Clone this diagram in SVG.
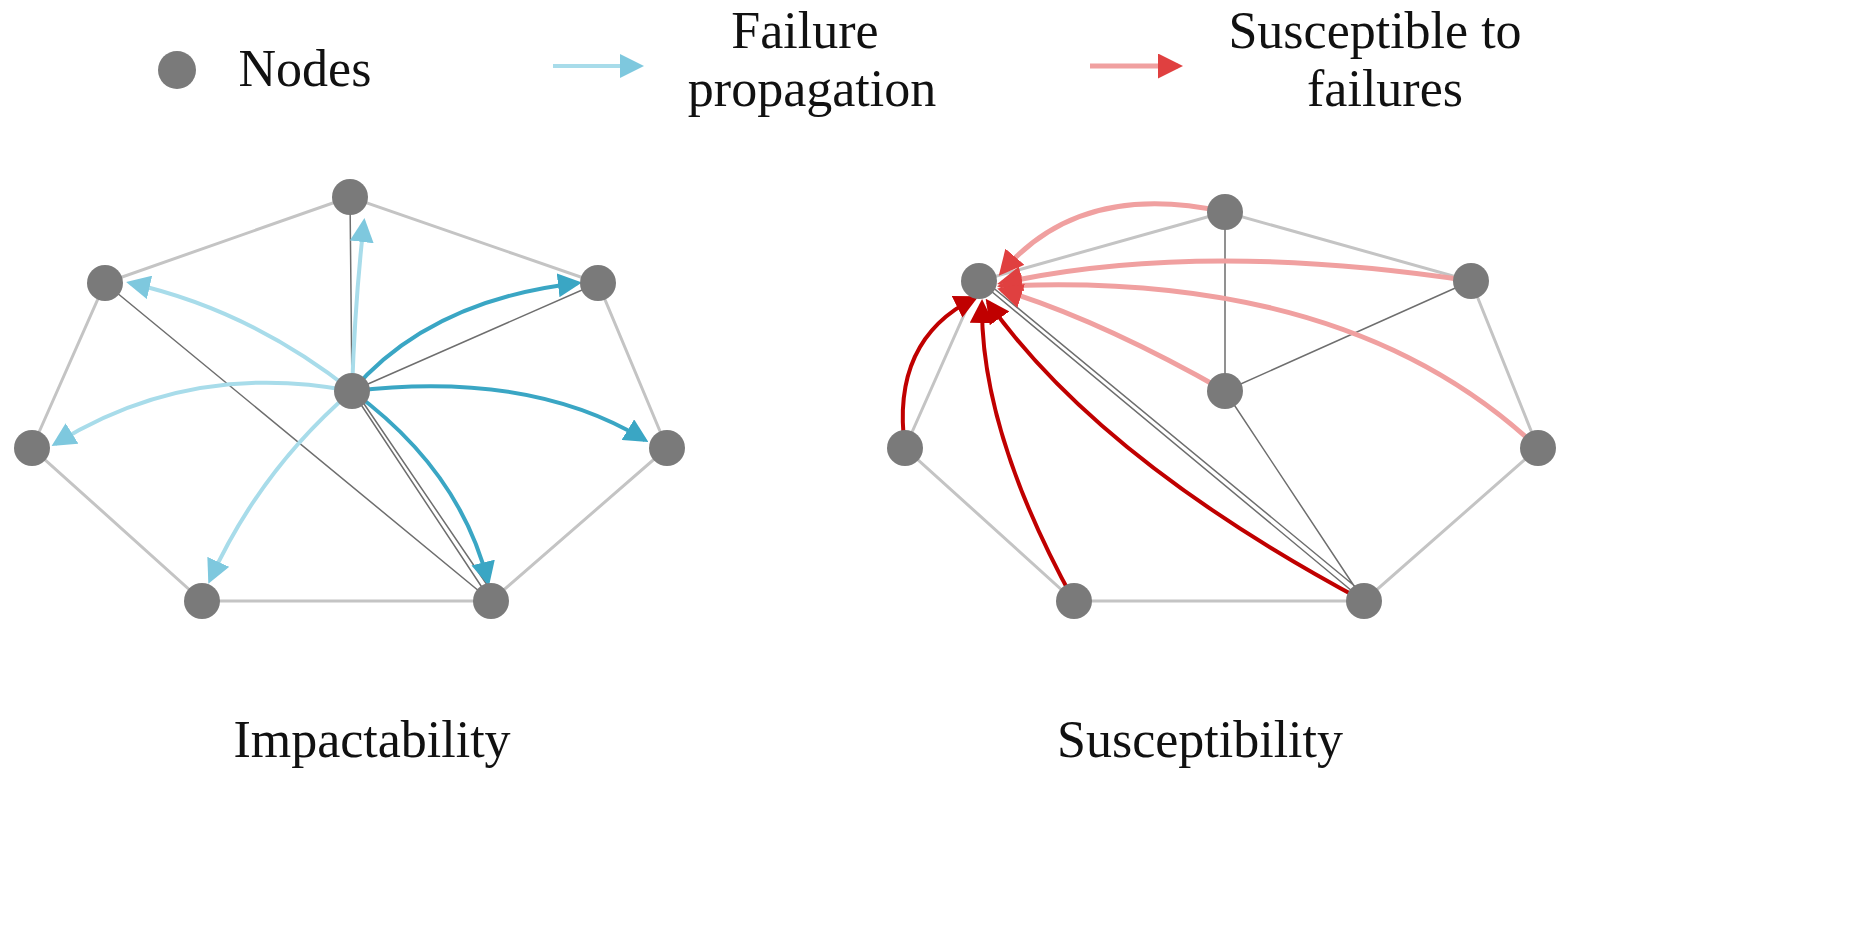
<svg xmlns="http://www.w3.org/2000/svg" width="1866" height="929" viewBox="0 0 1866 929">
<style>
text{font-family:"Liberation Serif",serif;font-size:52px;fill:#111;text-anchor:middle}
.o{stroke:#c4c4c4;stroke-width:3;fill:none}
.d{stroke:#6e6e6e;stroke-width:1.5;fill:none}
.n{fill:#7a7a7a}
.bf{stroke:#a8dcea;stroke-width:4;fill:none;marker-end:url(#bf)}
.bs{stroke:#3aa6c4;stroke-width:4;fill:none;marker-end:url(#bs)}
.rf{stroke:#f0a0a0;stroke-width:5;fill:none;marker-end:url(#rf)}
.rs{stroke:#c00000;stroke-width:4;fill:none;marker-end:url(#rs)}
</style>
<defs>
<marker id="bf" markerWidth="6" markerHeight="6" refX="5" refY="3" orient="auto" markerUnits="strokeWidth"><path d="M0,0L6,3L0,6z" fill="#7ec8de"/></marker>
<marker id="bs" markerWidth="6" markerHeight="6" refX="5" refY="3" orient="auto" markerUnits="strokeWidth"><path d="M0,0L6,3L0,6z" fill="#3aa6c4"/></marker>
<marker id="rf" markerWidth="5" markerHeight="5" refX="4" refY="2.5" orient="auto" markerUnits="strokeWidth"><path d="M0,0L5,2.5L0,5z" fill="#e04040"/></marker>
<marker id="rs" markerWidth="6" markerHeight="6" refX="5" refY="3" orient="auto" markerUnits="strokeWidth"><path d="M0,0L6,3L0,6z" fill="#c00000"/></marker>
</defs>
<g id="legend">
<circle class="n" cx="177" cy="70" r="19"/>
<text x="305" y="86">Nodes</text>
<path class="bf" d="M553,66H640"/>
<text x="805" y="48">Failure</text>
<text x="812" y="106">propagation</text>
<path class="rf" d="M1090,66H1178"/>
<text x="1375" y="48">Susceptible to</text>
<text x="1385" y="106">failures</text>
</g>
<g id="edges">
<path class="o" d="M350,197L105,283L32,448L202,601L491,601L667,448L598,283Z"/>
<path class="d" d="M350,197L352,391M105,283L491,601M352,391L598,283M352,391L491,601M358,395L496,598"/>
<path class="o" d="M1225,212L979,281L905,448L1074,601L1364,601L1538,448L1471,281Z"/>
<path class="d" d="M1225,212L1225,391M979,281L1364,601M985,281L1368,597M1225,391L1471,281M1225,391L1364,601"/>
</g>
<g id="connectors">
<path class="bf" d="M352,391Q355,300 364,222"/>
<path class="bf" d="M352,391Q250,310 130,283"/>
<path class="bf" d="M352,391Q190,360 55,444"/>
<path class="bf" d="M352,391Q260,470 210,580"/>
<path class="bs" d="M352,391Q430,300 578,283"/>
<path class="bs" d="M352,391Q530,370 645,440"/>
<path class="bs" d="M352,391Q460,470 488,582"/>
<path class="rf" d="M1225,212Q1080,180 1002,272"/>
<path class="rf" d="M1471,281Q1200,240 1002,283"/>
<path class="rf" d="M1538,448Q1350,270 1002,286"/>
<path class="rf" d="M1225,391Q1100,320 1002,290"/>
<path class="rs" d="M905,448Q890,340 975,298"/>
<path class="rs" d="M1074,601Q980,430 982,303"/>
<path class="rs" d="M1364,601Q1100,460 988,302"/>
</g>
<g id="nodes">
<circle class="n" cx="350" cy="197" r="18"/><circle class="n" cx="105" cy="283" r="18"/><circle class="n" cx="598" cy="283" r="18"/><circle class="n" cx="352" cy="391" r="18"/><circle class="n" cx="32" cy="448" r="18"/><circle class="n" cx="667" cy="448" r="18"/><circle class="n" cx="202" cy="601" r="18"/><circle class="n" cx="491" cy="601" r="18"/>
<circle class="n" cx="1225" cy="212" r="18"/><circle class="n" cx="979" cy="281" r="18"/><circle class="n" cx="1471" cy="281" r="18"/><circle class="n" cx="1225" cy="391" r="18"/><circle class="n" cx="905" cy="448" r="18"/><circle class="n" cx="1538" cy="448" r="18"/><circle class="n" cx="1074" cy="601" r="18"/><circle class="n" cx="1364" cy="601" r="18"/>
</g>
<g id="labels">
<text x="372" y="757">Impactability</text>
<text x="1200" y="757">Susceptibility</text>
</g>
</svg>
